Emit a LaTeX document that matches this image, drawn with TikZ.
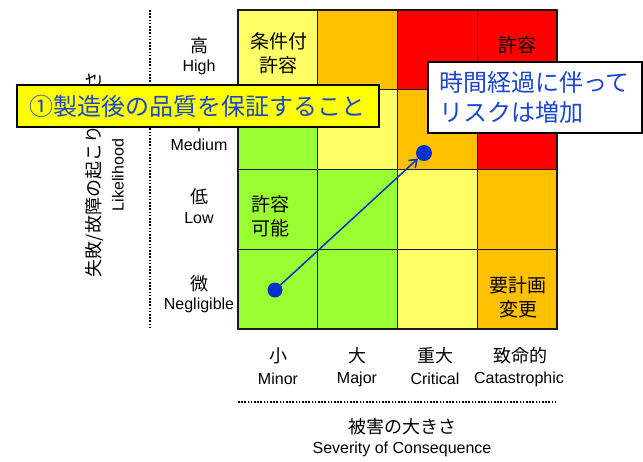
\documentclass[tikz,border=0pt]{standalone}
\usepackage{fontspec}
\setmainfont{Liberation Sans}
\newfontfamily\jp{Noto Sans CJK JP}
\usetikzlibrary{arrows.meta}
\definecolor{cgreen}{HTML}{99FF33}
\definecolor{cyellow}{HTML}{FFFF66}
\definecolor{corange}{HTML}{FFC000}
\definecolor{cred}{HTML}{FF0000}
\definecolor{boxyellow}{HTML}{FFFF00}
\definecolor{dotblue}{HTML}{0033CC}
\definecolor{txtblue}{HTML}{1A47CC}
\definecolor{gridline}{HTML}{1A1A1A}
\begin{document}
\begin{tikzpicture}[x=1pt,y=-1pt,
 cell/.style={draw=gridline,line width=1.3pt,minimum size=79.75pt,inner sep=0pt,outer sep=0pt},
 celltext/.style={font=\jp\fontsize{19}{24}\selectfont,align=center,inner sep=0pt,text=black},
 jplabel/.style={font=\jp\fontsize{18}{20}\selectfont,inner sep=0pt},
 enlabel/.style={font=\fontsize{16}{18}\selectfont,inner sep=0pt},
 dotline/.style={line width=1.6pt,dash pattern=on 1.6pt off 1.6pt},
 bluedot/.style={circle,fill=dotblue,inner sep=0pt},
 riskarrow/.style={draw=dotblue,line width=1.5pt,-{Straight Barb[length=7pt,width=10pt]}},
 callout/.style={draw=black,line width=1.2pt,font=\jp\fontsize{24}{30}\selectfont,text=txtblue}
]
\useasboundingbox (0,0) rectangle (643,461);
% grid cells
\foreach \r/\c/\col in {1/1/cyellow,1/2/corange,1/3/cred,1/4/cred,
  2/1/cgreen,2/2/cyellow,2/3/corange,2/4/cred,
  3/1/cgreen,3/2/cgreen,3/3/cyellow,3/4/corange,
  4/1/cgreen,4/2/cgreen,4/3/cyellow,4/4/corange}
  \node[cell,fill=\col] (c\r\c) at ({238+79.75*(\c-0.5)},{10+79.75*(\r-0.5)}) {};
% cell texts
\node[celltext] (t11) at (278.5,53.5) {条件付\\許容};
\node[celltext] (t14) at (517,57.5) {許容\\不可};
\node[celltext] (t31) at (270,216) {許容\\可能};
\node[celltext] (t44) at (518,297) {要計画\\変更};
% row labels
\node[jplabel] (r1jp) at (199,46) {高};
\node[enlabel] (r1en) at (199,67) {High};
\node[jplabel] (r2jp) at (199,124) {中};
\node[enlabel] (r2en) at (199,145) {Medium};
\node[jplabel] (r3jp) at (199,197) {低};
\node[enlabel] (r3en) at (199,218) {Low};
\node[jplabel] (r4jp) at (199,284) {微};
\node[enlabel] (r4en) at (199,305) {Negligible};
% column labels
\node[jplabel] (k1jp) at (278,356) {小};
\node[enlabel] (k1en) at (278,379) {Minor};
\node[jplabel] (k2jp) at (357,356) {大};
\node[enlabel] (k2en) at (357,379) {Major};
\node[jplabel] (k3jp) at (435,356) {重大};
\node[enlabel] (k3en) at (435,379) {Critical};
\node[jplabel] (k4jp) at (520,356) {致命的};
\node[enlabel] (k4en) at (519,379) {Catastrophic};
% axis titles
\node[jplabel,rotate=90] (yjp) at (95,174.5) {失敗/故障の起こりやすさ};
\node[enlabel,rotate=90] (yen) at (118,175) {Likelihood};
\node[jplabel] (xjp) at (402,427) {被害の大きさ};
\node[enlabel] (xen) at (402,449) {Severity of Consequence};
% dotted separators
\coordinate (v1) at (150,10);
\coordinate (v2) at (150,329);
\draw[dotline] (v1) -- (v2);
\coordinate (h1) at (238,402);
\coordinate (h2) at (557,402);
\draw[dotline] (h1) -- (h2);
% dots and arrow
\node[bluedot,minimum size=15pt] (d1) at (275,290) {};
\node[bluedot,minimum size=16pt] (d2) at (424,153) {};
\draw[riskarrow] (d1) -- (d2);
% callouts
\node[callout,fill=boxyellow,minimum width=362pt,minimum height=42pt,inner sep=0pt] (goal) at (198,106) {①製造後の品質を保証すること};
\node[callout,fill=white,minimum height=71pt,text width=192pt,inner xsep=11pt,inner ysep=0pt,align=left] (trend) at (535,97.5) {時間経過に伴って\\リスクは増加};
\end{tikzpicture}
\end{document}
